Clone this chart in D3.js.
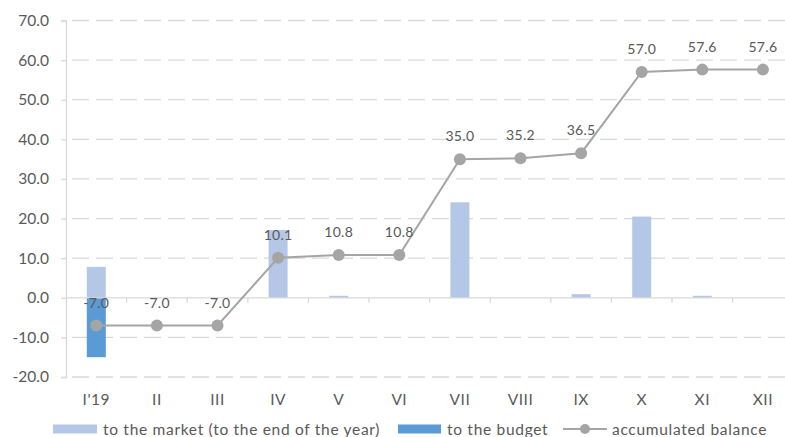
<!DOCTYPE html>
<html>
<head>
<meta charset="utf-8">
<script src="https://cdn.jsdelivr.net/npm/d3@7"></script>
<style>
  body { margin: 0; background: #fff; }
  svg text { font-family: Lato, "Open Sans", sans-serif; fill: #595959; }
</style>
</head>
<body>
<svg id="chart" width="785" height="437"></svg>
<script>
const months = ["I'19", 'II', 'III', 'IV', 'V', 'VI', 'VII', 'VIII', 'IX', 'X', 'XI', 'XII'];
const toMarket = [7.8, 0, 0, 17.1, 0.5, 0, 24.1, 0, 0.9, 20.5, 0.5, 0];
const toBudget = [-15.0, 0, 0, 0, 0, 0, 0, 0, 0, 0, 0, 0];
const balance = [-7.0, -7.0, -7.0, 10.1, 10.8, 10.8, 35.0, 35.2, 36.5, 57.0, 57.6, 57.6];
const yTicks = [-20, -10, 0, 10, 20, 30, 40, 50, 60, 70];

const svg = d3.select('#chart');
const left = 66;
const step = 60.6;

const x = d3.scaleBand()
  .domain(months)
  .range([left, left + step * months.length]);

const y = d3.scaleLinear()
  .domain([-20, 70])
  .range([377, 20.5]);

// excel style: plain hyphen for negatives
const fmt = v => d3.format('.1f')(v).replace('\u2212', '-');
const barW = 19;

// gridlines
svg.append('g')
  .selectAll('line')
  .data(yTicks.filter(t => t !== 0))
  .join('line')
  .attr('x1', left)
  .attr('x2', 785)
  .attr('y1', d => y(d))
  .attr('y2', d => y(d))
  .attr('stroke', '#d9d9d9')
  .attr('stroke-width', 1.3)
  .attr('stroke-dasharray', '17,7')
  .attr('stroke-dashoffset', -6);

// y axis
const yAxis = svg.append('g')
  .attr('transform', `translate(${left},0)`)
  .call(d3.axisLeft(y).tickValues(yTicks).tickFormat(fmt).tickSize(5).tickPadding(12));
yAxis.select('.domain').attr('stroke', '#d9d9d9').attr('stroke-width', 1.3);
yAxis.selectAll('.tick line').attr('stroke', '#d9d9d9').attr('stroke-width', 1.3);
yAxis.selectAll('.tick text')
  .attr('font-size', 15.5)
  .style('font-family', 'Lato, sans-serif')
  .attr('fill', '#595959');

// bars
svg.append('g')
  .selectAll('rect')
  .data(months.map((m, i) => ({ m, v: toMarket[i] })).filter(d => d.v !== 0))
  .join('rect')
  .attr('x', d => x(d.m) + x.bandwidth() / 2 - barW / 2)
  .attr('width', barW)
  .attr('y', d => y(d.v))
  .attr('height', d => y(0) - y(d.v))
  .attr('fill', '#b4c7e7');

svg.append('g')
  .selectAll('rect')
  .data(months.map((m, i) => ({ m, v: toBudget[i] })).filter(d => d.v !== 0))
  .join('rect')
  .attr('x', d => x(d.m) + x.bandwidth() / 2 - barW / 2)
  .attr('width', barW)
  .attr('y', y(0))
  .attr('height', d => y(d.v) - y(0))
  .attr('fill', '#5b9bd5');

// zero axis with category ticks
svg.append('line')
  .attr('x1', left).attr('x2', 785)
  .attr('y1', y(0)).attr('y2', y(0))
  .attr('stroke', '#d9d9d9').attr('stroke-width', 1.3);
svg.append('g')
  .selectAll('line')
  .data(months.slice(1))
  .join('line')
  .attr('x1', d => x(d)).attr('x2', d => x(d))
  .attr('y1', y(0)).attr('y2', y(0) + 5)
  .attr('stroke', '#d9d9d9').attr('stroke-width', 1.3);

// category labels
svg.append('g')
  .selectAll('text')
  .data(months)
  .join('text')
  .attr('x', d => x(d) + x.bandwidth() / 2)
  .attr('y', 405)
  .attr('text-anchor', 'middle')
  .attr('font-size', 15.5)
  .attr('letter-spacing', 0.5)
  .text(d => d);

// balance line
const cx = i => x(months[i]) + x.bandwidth() / 2;
const line = d3.line()
  .x((d, i) => cx(i))
  .y(d => y(d));

svg.append('path')
  .datum(balance)
  .attr('d', line)
  .attr('fill', 'none')
  .attr('stroke', '#a5a5a5')
  .attr('stroke-width', 2);

svg.append('g')
  .selectAll('circle')
  .data(balance)
  .join('circle')
  .attr('cx', (d, i) => cx(i))
  .attr('cy', d => y(d))
  .attr('r', 6)
  .attr('fill', '#a5a5a5');

svg.append('g')
  .selectAll('text')
  .data(balance)
  .join('text')
  .attr('x', (d, i) => cx(i))
  .attr('y', d => y(d) - 18)
  .attr('text-anchor', 'middle')
  .attr('font-size', 14)
  .attr('letter-spacing', 0.3)
  .text(d => fmt(d));

// legend
const lg = svg.append('g').attr('font-size', 15.5).attr('letter-spacing', 0.7);
lg.append('rect').attr('x', 53).attr('y', 424.5).attr('width', 44).attr('height', 9).attr('fill', '#b4c7e7');
lg.append('text').attr('x', 103).attr('y', 434.5).text('to the market (to the end of the year)');
lg.append('rect').attr('x', 398).attr('y', 424.5).attr('width', 43).attr('height', 9).attr('fill', '#5b9bd5');
lg.append('text').attr('x', 447).attr('y', 434.5).text('to the budget');
lg.append('line').attr('x1', 563).attr('x2', 607).attr('y1', 429).attr('y2', 429)
  .attr('stroke', '#a5a5a5').attr('stroke-width', 2);
lg.append('circle').attr('cx', 585).attr('cy', 429).attr('r', 5).attr('fill', '#a5a5a5');
lg.append('text').attr('x', 612).attr('y', 434.5).text('accumulated balance');
</script>
</body>
</html>
